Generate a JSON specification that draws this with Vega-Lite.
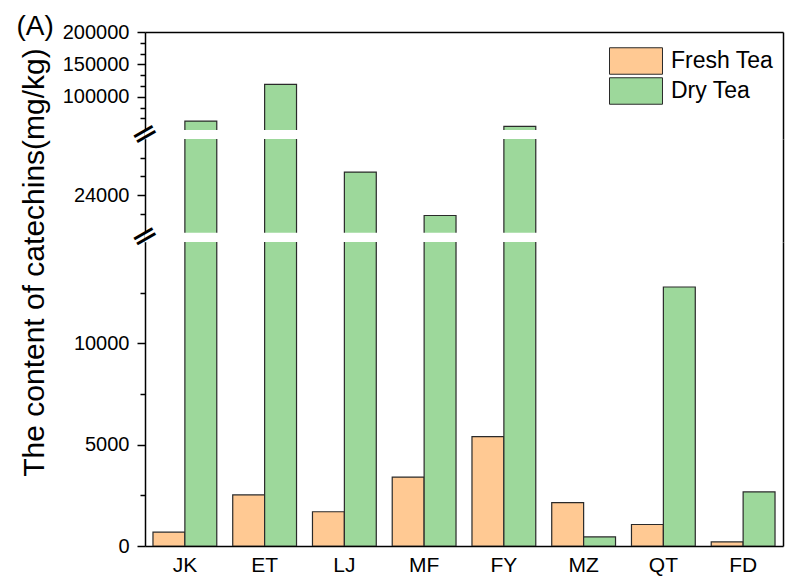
{
  "$schema": "https://vega.github.io/schema/vega-lite/v6.json",
  "padding": {"left": 16, "top": 12, "right": 5, "bottom": 5},
  "bounds": "flush",
  "spacing": 0,
  "datasets": {
    "tea": [
      {"site": "JK", "type": "Fresh Tea", "value": 680},
      {"site": "JK", "type": "Dry Tea", "value": 62700},
      {"site": "ET", "type": "Fresh Tea", "value": 2520},
      {"site": "ET", "type": "Dry Tea", "value": 119300},
      {"site": "LJ", "type": "Fresh Tea", "value": 1690},
      {"site": "LJ", "type": "Dry Tea", "value": 26470},
      {"site": "MF", "type": "Fresh Tea", "value": 3400},
      {"site": "MF", "type": "Dry Tea", "value": 21830},
      {"site": "FY", "type": "Fresh Tea", "value": 5400},
      {"site": "FY", "type": "Dry Tea", "value": 54600},
      {"site": "MZ", "type": "Fresh Tea", "value": 2140},
      {"site": "MZ", "type": "Dry Tea", "value": 450},
      {"site": "QT", "type": "Fresh Tea", "value": 1060},
      {"site": "QT", "type": "Dry Tea", "value": 12780},
      {"site": "FD", "type": "Fresh Tea", "value": 200},
      {"site": "FD", "type": "Dry Tea", "value": 2670}
    ],
    "topMinor": [{"v": 183333.33}, {"v": 166666.67}, {"v": 133333.33}, {"v": 116666.67}, {"v": 83333.33}, {"v": 66666.67}],
    "midMinor": [{"v": 22000}, {"v": 26000}, {"v": 28000}],
    "lowMinor": [{"v": 2500}, {"v": 7500}, {"v": 12500}]
  },
  "resolve": {"scale": {"y": "independent", "color": "independent"}},
  "vconcat": [
    {
      "width": 638,
      "height": 107,
      "resolve": {"axis": {"y": "independent"}},
      "layer": [
        {
          "data": {"name": "tea"},
          "mark": {"type": "bar", "stroke": "#2a2a2a", "strokeWidth": 1.2, "clip": true},
          "encoding": {
            "x": {
              "field": "site", "type": "nominal",
              "sort": ["JK", "ET", "LJ", "MF", "FY", "MZ", "QT", "FD"],
              "scale": {"paddingInner": 0.2, "paddingOuter": 0.1},
              "axis": {"orient": "top", "labels": false, "ticks": false, "title": null}
            },
            "xOffset": {"field": "type", "sort": ["Fresh Tea", "Dry Tea"], "scale": {"paddingInner": 0, "paddingOuter": 0}},
            "y": {
              "field": "value", "type": "quantitative",
              "scale": {"domain": [35000, 200000], "nice": false, "zero": false},
              "axis": {
                "values": [200000, 150000, 100000],
                "format": "d",
                "tickSize": 8,
                "labelFontSize": 20,
                "labelPadding": 8,
                "title": "(A)",
                "titleAngle": 0,
                "titleAlign": "left",
                "titleBaseline": "alphabetic",
                "titleX": -129,
                "titleY": 2,
                "titleFontSize": 28
              }
            },
            "color": {
              "field": "type", "type": "nominal",
              "scale": {"domain": ["Fresh Tea", "Dry Tea"], "range": ["#FFC993", "#9DD89B"]},
              "legend": {
                "orient": "none", "legendX": 477, "legendY": 15,
                "title": null, "padding": 0,
                "symbolType": "M-2,-1H2V1H-2Z", "symbolSize": 702,
                "symbolStrokeColor": "#2a2a2a", "symbolStrokeWidth": 1, "symbolOpacity": 1,
                "labelFont": "Liberation Sans", "labelFontSize": 23, "labelColor": "#000",
                "labelOffset": 21, "rowPadding": -2
              }
            }
          }
        },
        {
          "data": {"name": "topMinor"},
          "mark": {"type": "point", "opacity": 0},
          "encoding": {
            "y": {
              "field": "v", "type": "quantitative",
              "scale": {"domain": [35000, 200000], "nice": false, "zero": false},
              "axis": {"orient": "left", "offset": 0, "values": [183333.33, 166666.67, 133333.33, 116666.67, 83333.33, 66666.67], "labels": false, "domain": false, "tickSize": 5, "title": null}
            }
          }
        },
        {
          "data": {"values": [{"lo": 35000, "hi": 48900}]},
          "mark": {"type": "rect", "color": "white"},
          "encoding": {
            "y": {
              "field": "lo", "type": "quantitative",
              "scale": {"domain": [35000, 200000], "nice": false, "zero": false},
              "axis": {"orient": "right", "labels": false, "ticks": false, "title": null, "zindex": 1}
            },
            "y2": {"field": "hi"}
          }
        },
        {
          "data": {"values": [{"brk": 41200}]},
          "mark": {"type": "point", "opacity": 0},
          "encoding": {
            "y": {
              "field": "brk", "type": "quantitative",
              "scale": {"domain": [35000, 200000], "nice": false, "zero": false},
              "axis": {
                "orient": "left", "offset": 0, "values": [41200], "labelExpr": "'═'",
                "ticks": false, "domain": false, "title": null, "zindex": 2,
                "labelAngle": -30, "labelAlign": "center", "labelBaseline": "middle",
                "labelPadding": 0, "labelFontSize": 34, "labelFont": "DejaVu Sans Mono"
              }
            }
          }
        }
      ]
    },
    {
      "width": 638,
      "height": 103,
      "resolve": {"axis": {"y": "independent"}},
      "layer": [
        {
          "data": {"name": "tea"},
          "mark": {"type": "bar", "stroke": "#2a2a2a", "strokeWidth": 1.2, "clip": true},
          "encoding": {
            "x": {
              "field": "site", "type": "nominal",
              "sort": ["JK", "ET", "LJ", "MF", "FY", "MZ", "QT", "FD"],
              "scale": {"paddingInner": 0.2, "paddingOuter": 0.1},
              "axis": null
            },
            "xOffset": {"field": "type", "sort": ["Fresh Tea", "Dry Tea"], "scale": {"paddingInner": 0, "paddingOuter": 0}},
            "y": {
              "field": "value", "type": "quantitative",
              "scale": {"domain": [19000, 30000], "nice": false, "zero": false},
              "axis": {
                "values": [24000],
                "format": "d",
                "tickSize": 8,
                "labelFontSize": 20,
                "labelPadding": 8,
                "title": null
              }
            },
            "color": {
              "field": "type", "type": "nominal",
              "scale": {"domain": ["Fresh Tea", "Dry Tea"], "range": ["#FFC993", "#9DD89B"]},
              "legend": null
            }
          }
        },
        {
          "data": {"name": "midMinor"},
          "mark": {"type": "point", "opacity": 0},
          "encoding": {
            "y": {
              "field": "v", "type": "quantitative",
              "scale": {"domain": [19000, 30000], "nice": false, "zero": false},
              "axis": {"orient": "left", "offset": 0, "values": [22000, 26000, 28000], "labels": false, "domain": false, "tickSize": 5, "title": null}
            }
          }
        },
        {
          "data": {"values": [{"lo": 19000, "hi": 20000}]},
          "mark": {"type": "rect", "color": "white"},
          "encoding": {
            "y": {
              "field": "lo", "type": "quantitative",
              "scale": {"domain": [19000, 30000], "nice": false, "zero": false},
              "axis": {"orient": "right", "labels": false, "ticks": false, "title": null, "zindex": 1}
            },
            "y2": {"field": "hi"}
          }
        },
        {
          "data": {"values": [{"brk": 19500}]},
          "mark": {"type": "point", "opacity": 0},
          "encoding": {
            "y": {
              "field": "brk", "type": "quantitative",
              "scale": {"domain": [19000, 30000], "nice": false, "zero": false},
              "axis": {
                "orient": "left", "offset": 0, "values": [19500], "labelExpr": "'═'",
                "ticks": false, "domain": false, "title": null, "zindex": 2,
                "labelAngle": -30, "labelAlign": "center", "labelBaseline": "middle",
                "labelPadding": 0, "labelFontSize": 34, "labelFont": "DejaVu Sans Mono"
              }
            }
          }
        }
      ]
    },
    {
      "width": 638,
      "height": 304,
      "resolve": {"axis": {"y": "independent"}},
      "layer": [
        {
          "data": {"name": "tea"},
          "mark": {"type": "bar", "stroke": "#2a2a2a", "strokeWidth": 1.2, "clip": true},
          "encoding": {
            "x": {
              "field": "site", "type": "nominal",
              "sort": ["JK", "ET", "LJ", "MF", "FY", "MZ", "QT", "FD"],
              "scale": {"paddingInner": 0.2, "paddingOuter": 0.1},
              "axis": {"orient": "bottom", "ticks": false, "labelAngle": 0, "labelFontSize": 21, "labelPadding": 8, "title": null}
            },
            "xOffset": {"field": "type", "sort": ["Fresh Tea", "Dry Tea"], "scale": {"paddingInner": 0, "paddingOuter": 0}},
            "y": {
              "field": "value", "type": "quantitative",
              "scale": {"domain": [0, 15000], "nice": false, "zero": false},
              "axis": {
                "values": [0, 5000, 10000],
                "format": "d",
                "tickSize": 8,
                "labelFontSize": 20,
                "labelPadding": 8,
                "title": "The content of catechins(mg/kg)",
                "titleFontSize": 30,
                "titleAngle": -90,
                "titleAlign": "center",
                "titleBaseline": "alphabetic",
                "titleX": -102,
                "titleY": 20
              }
            },
            "color": {
              "field": "type", "type": "nominal",
              "scale": {"domain": ["Fresh Tea", "Dry Tea"], "range": ["#FFC993", "#9DD89B"]},
              "legend": null
            }
          }
        },
        {
          "data": {"name": "lowMinor"},
          "mark": {"type": "point", "opacity": 0},
          "encoding": {
            "y": {
              "field": "v", "type": "quantitative",
              "scale": {"domain": [0, 15000], "nice": false, "zero": false},
              "axis": {"orient": "left", "offset": 0, "values": [2500, 7500, 12500], "labels": false, "domain": false, "tickSize": 5, "title": null}
            }
          }
        },
        {
          "data": {"values": [{"v": 0}]},
          "mark": {"type": "point", "opacity": 0},
          "encoding": {
            "y": {
              "field": "v", "type": "quantitative",
              "scale": {"domain": [0, 15000], "nice": false, "zero": false},
              "axis": {"orient": "right", "labels": false, "ticks": false, "title": null, "zindex": 1}
            }
          }
        }
      ]
    }
  ],
  "config": {
    "view": {"stroke": null},
    "axis": {
      "grid": false,
      "domainColor": "#000",
      "domainWidth": 1.5,
      "tickColor": "#000",
      "tickWidth": 1.5,
      "labelColor": "#000",
      "labelFont": "Liberation Sans",
      "titleFont": "Liberation Sans",
      "titleColor": "#000",
      "titleFontWeight": "normal"
    }
  }
}
